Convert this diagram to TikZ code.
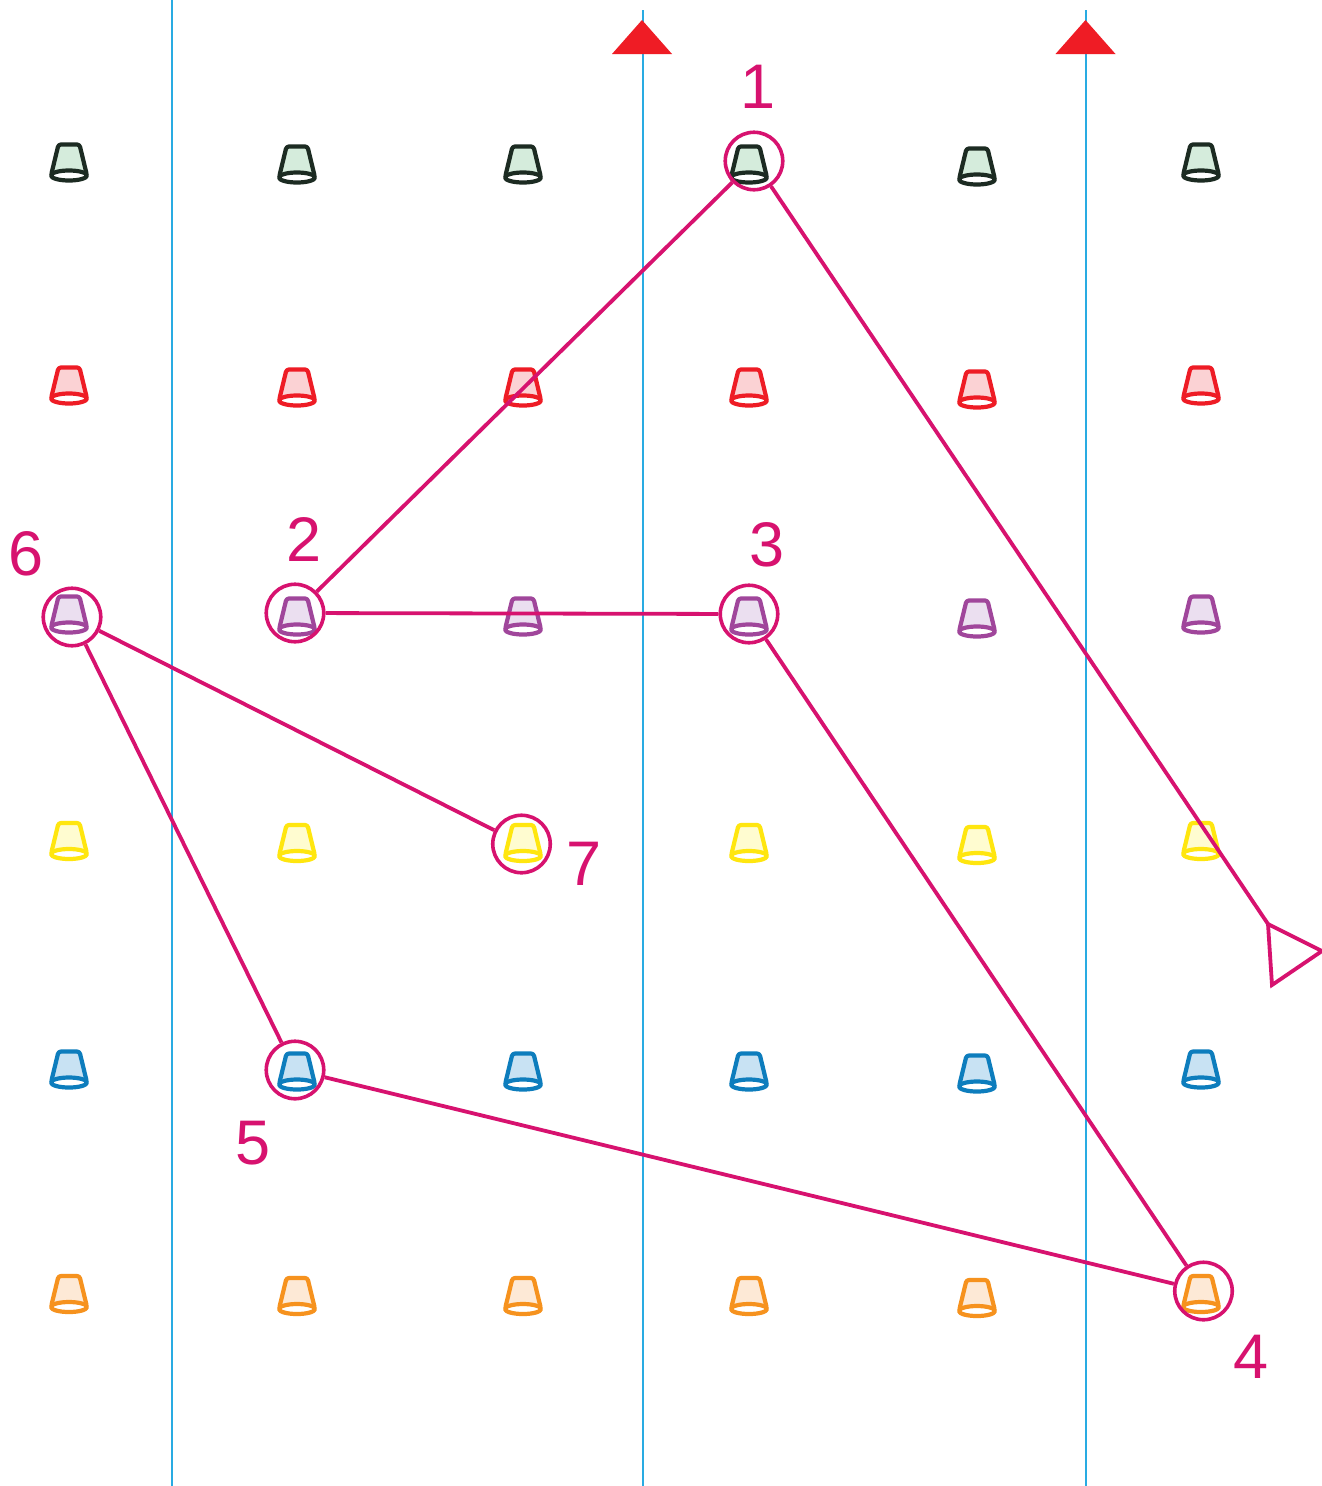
\documentclass[tikz,border=0pt]{standalone}
\usepackage{fontspec}
\setmainfont{Liberation Sans}
\definecolor{mag}{HTML}{D7126F}
\definecolor{cyanl}{HTML}{29ABE2}
\definecolor{redt}{HTML}{EF1C25}
\definecolor{gS}{HTML}{1C2B22}\definecolor{gF}{HTML}{D5ECDC}
\definecolor{rS}{HTML}{EE1C25}\definecolor{rF}{HTML}{FBD2D4}
\definecolor{pS}{HTML}{A0469B}\definecolor{pF}{HTML}{EBDFF0}
\definecolor{yS}{HTML}{FFE60F}\definecolor{yF}{HTML}{FFFCD0}
\definecolor{bS}{HTML}{0D7DBD}\definecolor{bF}{HTML}{C8E2F3}
\definecolor{oS}{HTML}{F6921E}\definecolor{oF}{HTML}{FDE9D6}
\tikzset{
  x=1pt,y=-1pt,
  guide/.style={draw=cyanl,line width=1.8pt},
  flag/.style={fill=redt,draw=none},
  ring/.style={circle,draw=mag,line width=3.6pt,minimum size=57.5pt,inner sep=0pt},
  route/.style={draw=mag,line width=3.8pt},
  num/.style={text=mag,font=\fontsize{63}{63}\selectfont,inner sep=0pt},
  conebody/.style={line width=4.2pt,line join=round},
}
\newcommand{\drawcone}[4]{%
  \begin{scope}[shift={(#1,#2)}]
    \path[conebody,draw=#3,fill=#4,rounded corners=2.5pt] (-10.5,-17) -- (10.5,-17) -- (18,14) -- (-18,14) -- cycle;
    \path[conebody,draw=#3,fill=white] (0,14) ellipse [x radius=18,y radius=5];
  \end{scope}}
\begin{document}
\begin{tikzpicture}
\useasboundingbox (0,0) rectangle (1322,1486);
\fill[white] (0,0) rectangle (1322,1486);
\draw[guide] (171.7,0) -- (171.7,1486);
\draw[guide] (642.7,10) -- (642.7,1486);
\draw[guide] (1086,10) -- (1086,1486);
\fill[flag] (642,20) -- (672,54) -- (612,54) -- cycle;
\fill[flag] (1085.5,20) -- (1115.5,54) -- (1055.5,54) -- cycle;
\foreach \s/\f/\y in {gS/gF/161.5, rS/rF/384.5, pS/pF/613.5, yS/yF/840, bS/bF/1068.5, oS/oF/1293}{
  \foreach \x/\d in {69/0, 297/2, 523/2, 749/2, 977/4, 1201/0}{
    \pgfmathsetmacro{\yy}{\y+\d}
    \drawcone{\x}{\yy}{\s}{\f}
  }
}
\node[ring] (c1) at (754,161) {};
\node[ring] (c2) at (295,613) {};
\node[ring] (c3) at (749,614) {};
\node[ring] (c4) at (1203.5,1291) {};
\node[ring] (c5) at (295,1070) {};
\node[ring] (c6) at (72,617) {};
\node[ring] (c7) at (521.5,844) {};
\coordinate (tipA) at (1268,924);
\coordinate (tipB) at (1322,951);
\coordinate (tipC) at (1272,985);
\draw[route] (c7) -- (c6);
\draw[route] (c6) -- (c5);
\draw[route] (c5) -- (c4);
\draw[route] (c4) -- (c3);
\draw[route] (c3) -- (c2);
\draw[route] (c2) -- (c1);
\draw[route] (c1) -- (tipA);
\draw[route,line join=miter] (tipA) -- (tipB) -- (tipC) -- cycle;
\node[num] (n1) at (758,87) {1};
\node[num] (n2) at (304.5,539.5) {2};
\node[num] (n3) at (767.5,545) {3};
\node[num] (n4) at (1251.5,1357) {4};
\node[num] (n5) at (253.5,1143.5) {5};
\node[num] (n6) at (26.5,554) {6};
\node[num] (n7) at (584.5,864) {7};
\end{tikzpicture}
\end{document}
